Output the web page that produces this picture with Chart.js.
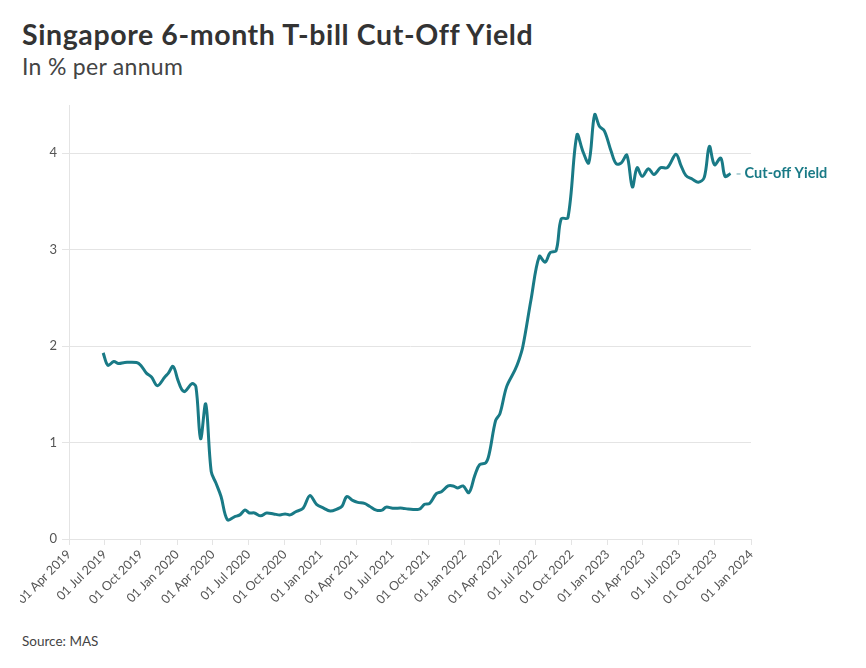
<!DOCTYPE html>
<html>
<head>
<meta charset="utf-8">
<script src="https://cdn.jsdelivr.net/npm/chart.js@4/dist/chart.umd.min.js"></script>
<style>
  html, body { margin: 0; padding: 0; background: #fff; width: 866px; height: 668px; overflow: hidden; }
  body { position: relative; font-family: Lato, "Noto Sans", sans-serif; }
  #title { position: absolute; left: 22px; top: 20px; font-size: 28.5px; letter-spacing: 0.6px; font-weight: 700; color: #333; line-height: 1; white-space: nowrap; }
  #subtitle { position: absolute; left: 22px; top: 55px; font-size: 23px; letter-spacing: 0.3px; color: #444; line-height: 1; white-space: nowrap; }
  #source { position: absolute; left: 22px; top: 635px; font-size: 13.5px; color: #444; line-height: 1; white-space: nowrap; }
  #c { position: absolute; left: 20px; top: 0; }
</style>
</head>
<body>
<div id="title">Singapore 6-month T-bill Cut-Off Yield</div>
<div id="subtitle">In % per annum</div>
<div id="source">Source: MAS</div>
<canvas id="c" width="846" height="668"></canvas>
<script>
const seriesName = 'Cut-off Yield';

const auctionDates = [
  '2019-06-27','2019-07-09','2019-07-24','2019-08-05','2019-08-21','2019-09-20','2019-10-01','2019-10-15','2019-10-28','2019-11-12',
  '2019-12-01','2019-12-10','2019-12-22','2020-01-03','2020-01-13','2020-01-21','2020-02-08','2020-02-18','2020-03-01','2020-03-14',
  '2020-03-28','2020-04-09','2020-04-22','2020-05-08','2020-05-26','2020-06-09','2020-06-22','2020-07-03','2020-07-16','2020-08-01',
  '2020-08-16','2020-09-03','2020-09-19','2020-10-02','2020-10-15','2020-10-28','2020-11-17','2020-12-04','2020-12-21','2021-01-08',
  '2021-01-25','2021-02-11','2021-02-24','2021-03-08','2021-03-23','2021-04-05','2021-04-22','2021-05-05','2021-05-22','2021-06-06',
  '2021-06-16','2021-07-03','2021-07-28','2021-08-11','2021-09-09','2021-09-22','2021-10-05','2021-10-22','2021-11-04','2021-11-21',
  '2021-12-04','2021-12-16','2021-12-29','2022-01-13','2022-01-28','2022-02-09','2022-02-25','2022-03-06','2022-03-22','2022-04-02',
  '2022-04-19','2022-05-10','2022-05-19','2022-05-30','2022-06-20','2022-07-11','2022-07-26','2022-08-08','2022-08-23','2022-09-05',
  '2022-09-22','2022-10-15','2022-10-30','2022-11-14','2022-11-29','2022-12-11','2022-12-24','2023-01-10','2023-01-23','2023-02-05',
  '2023-02-19','2023-03-05','2023-03-17','2023-03-30','2023-04-15','2023-04-29','2023-05-16','2023-06-02','2023-06-24','2023-07-06',
  '2023-07-19','2023-08-05','2023-08-20','2023-09-04','2023-09-17','2023-09-30','2023-10-16','2023-10-27','2023-11-10'
];

const cutoffYield = [
  1.93,1.80,1.84,1.82,1.83,1.83,1.80,1.72,1.68,1.59,
  1.68,1.72,1.79,1.65,1.55,1.53,1.61,1.58,1.04,1.40,
  0.70,0.58,0.44,0.20,0.23,0.25,0.30,0.27,0.27,0.24,
  0.27,0.26,0.25,0.26,0.25,0.28,0.32,0.45,0.36,0.32,
  0.29,0.31,0.34,0.44,0.40,0.38,0.37,0.34,0.30,0.30,
  0.33,0.32,0.32,0.31,0.31,0.36,0.37,0.47,0.49,0.55,
  0.55,0.53,0.55,0.48,0.66,0.77,0.79,0.89,1.23,1.30,
  1.58,1.75,1.84,1.99,2.48,2.93,2.87,2.97,2.99,3.32,
  3.33,4.19,4.02,3.90,4.40,4.28,4.23,4.02,3.89,3.90,
  3.98,3.65,3.85,3.76,3.84,3.78,3.85,3.85,3.99,3.88,
  3.77,3.73,3.70,3.75,4.07,3.88,3.95,3.76,3.79
];

const xTickDates = [
  '2019-04-01','2019-07-01','2019-10-01','2020-01-01','2020-04-01','2020-07-01','2020-10-01',
  '2021-01-01','2021-04-01','2021-07-01','2021-10-01','2022-01-01','2022-04-01','2022-07-01',
  '2022-10-01','2023-01-01','2023-04-01','2023-07-01','2023-10-01','2024-01-01'
];
const xTickLabels = [
  '01 Apr 2019','01 Jul 2019','01 Oct 2019','01 Jan 2020','01 Apr 2020','01 Jul 2020','01 Oct 2020',
  '01 Jan 2021','01 Apr 2021','01 Jul 2021','01 Oct 2021','01 Jan 2022','01 Apr 2022','01 Jul 2022',
  '01 Oct 2022','01 Jan 2023','01 Apr 2023','01 Jul 2023','01 Oct 2023','01 Jan 2024'
];
const yTicks = [0, 1, 2, 3, 4];

const ts = d => new Date(d + 'T00:00:00Z').getTime();
const teal = '#197a86';
const gridColor = '#e4e4e4';

const points = auctionDates.map((d, i) => ({ x: ts(d), y: cutoffYield[i] }));

const endLabel = {
  id: 'endLabel',
  afterDatasetsDraw(chart) {
    const meta = chart.getDatasetMeta(0);
    const p = meta.data[meta.data.length - 1];
    const ctx = chart.ctx;
    ctx.save();
    ctx.strokeStyle = 'rgba(25,122,134,0.55)';
    ctx.lineWidth = 1.2;
    ctx.beginPath();
    ctx.moveTo(p.x + 6, p.y + 0.5);
    ctx.lineTo(p.x + 10, p.y + 0.5);
    ctx.stroke();
    ctx.fillStyle = teal;
    ctx.font = 'bold 14.5px Lato, "Noto Sans", sans-serif';
    ctx.textBaseline = 'middle';
    ctx.textAlign = 'left';
    ctx.fillText(chart.data.datasets[0].label, p.x + 14, p.y);
    ctx.restore();
  }
};

new Chart(document.getElementById('c'), {
  type: 'line',
  data: {
    datasets: [{
      label: seriesName,
      data: points,
      borderColor: teal,
      borderWidth: 3,
      pointRadius: 0,
      tension: 0.35,
      fill: false
    }]
  },
  options: {
    responsive: false,
    animation: false,
    devicePixelRatio: 1,
    layout: { padding: { left: 0, top: 105, right: 115, bottom: 29 } },
    plugins: { legend: { display: false }, tooltip: { enabled: false } },
    scales: {
      x: {
        type: 'linear',
        min: ts(xTickDates[0]),
        max: ts(xTickDates[xTickDates.length - 1]),
        afterBuildTicks: s => { s.ticks = xTickDates.map(d => ({ value: ts(d) })); },
        afterFit: s => { s.height = 100; s.paddingLeft = 0; s.paddingRight = 0; },
        grid: { drawOnChartArea: false, drawTicks: true, tickLength: 6, color: gridColor, lineWidth: 1 },
        border: { display: false },
        ticks: {
          autoSkip: false,
          minRotation: 45,
          maxRotation: 45,
          padding: 2,
          color: '#555',
          font: { family: 'Lato, "Noto Sans", sans-serif', size: 12.5 },
          callback: (v, i) => xTickLabels[i]
        }
      },
      y: {
        min: 0,
        max: 4.5,
        afterBuildTicks: s => { s.ticks = yTicks.map(v => ({ value: v })); },
        afterFit: s => { s.width = 49; },
        grid: { drawTicks: true, tickLength: 7, color: gridColor, lineWidth: 1 },
        border: { display: true, color: gridColor, width: 1 },
        ticks: {
          padding: 5,
          color: '#555',
          font: { family: 'Lato, "Noto Sans", sans-serif', size: 13 },
          callback: v => String(v)
        }
      }
    }
  },
  plugins: [endLabel]
});
</script>
</body>
</html>
